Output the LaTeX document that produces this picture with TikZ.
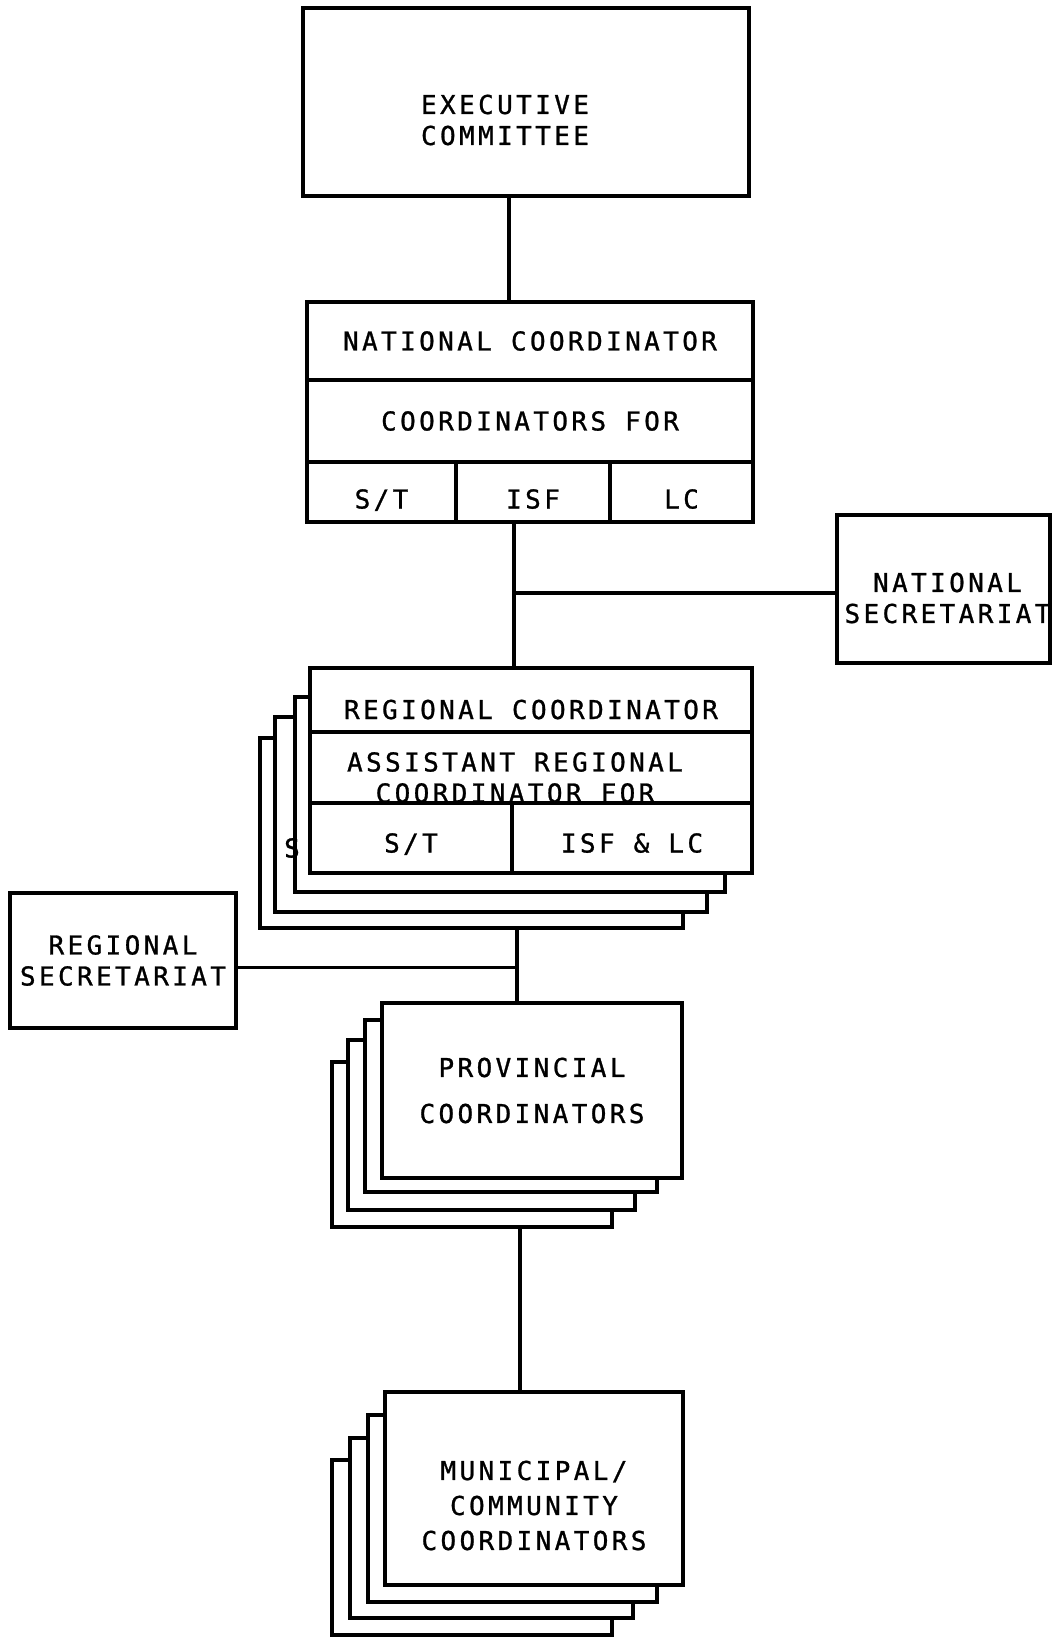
\documentclass[tikz,border=0pt]{standalone}
\usepackage{fontspec}
\usetikzlibrary{positioning}
\newfontfamily\orgfont[LetterSpace=13, FakeBold=1]{DejaVu Sans Mono}

\begin{document}
\begin{tikzpicture}[
  x=1pt, y=-1pt,
  box/.style={rectangle, draw, line width=3.3pt, fill=white, inner sep=0pt, outer sep=0pt,
              align=center, font=\orgfont\fontsize{26}{31}\selectfont},
  sheet/.style={rectangle, draw, line width=3.3pt, fill=white, inner sep=0pt, outer sep=0pt},
  txt/.style={inner sep=0pt, align=center, font=\orgfont\fontsize{26}{31}\selectfont},
  low/.style={text height=#1, text depth=0pt},
  link/.style={line width=3.3pt},
]
\useasboundingbox (0,0) rectangle (1052,1637);

% Executive committee
\node[sheet, minimum width=446, minimum height=188] (exec) at (526,102) {};
\node[txt] (exectext) at ([xshift=-21pt, yshift=-18pt]exec.center) {EXECUTIVE\\COMMITTEE};

% National coordinator block
\node[box, minimum width=446, minimum height=78] (natname) at (530,341) {NATIONAL COORDINATOR};
\node[box, minimum width=446, minimum height=82, below=0pt of natname] (natfor) {COORDINATORS FOR};
\node[box, low=33pt, minimum width=149, minimum height=60, below=0pt of natfor.south west, anchor=north west] (natst) {S/T};
\node[box, low=33pt, minimum width=154, minimum height=60, right=0pt of natst] (natisf) {ISF};
\node[box, low=33pt, minimum width=143, minimum height=60, right=0pt of natisf] (natlc) {LC};

% National secretariat
\node[sheet, minimum width=213, minimum height=148] (natsec) at (943.5,589) {};
\node[txt] (natsectext) at ([xshift=4pt, yshift=-9pt]natsec.center) {NATIONAL\\SECRETARIAT};

% Regional coordinators (stacked)
\node[sheet, minimum width=423, minimum height=190] (reg4) at (471.5,833) {};
\node[sheet, minimum width=432, minimum height=195] (reg3) at (491,814.5) {};
\node[sheet, minimum width=430, minimum height=195] (reg2) at (510,794.5) {};
\node[txt] (regs) at (292,848) {S};
\node[box, low=38pt, minimum width=442, minimum height=64] (regname) at (531,700) {REGIONAL COORDINATOR};
\node[box, minimum width=442, minimum height=71, below=0pt of regname] (regasst) {};
\node[txt] (regassttext) at ([xshift=-16pt, yshift=-10pt]regasst.center) {ASSISTANT REGIONAL\\COORDINATOR FOR};
\node[box, low=29pt, minimum width=202, minimum height=70, below=0pt of regasst.south west, anchor=north west] (regst) {S/T};
\node[box, low=29pt, minimum width=240, minimum height=70, right=0pt of regst] (regisf) {ISF \& LC};

% Regional secretariat
\node[box, minimum width=226, minimum height=135] (regsec) at (123,960.5) {REGIONAL\\SECRETARIAT};

% Provincial coordinators (stacked)
\node[sheet, minimum width=280, minimum height=165] (prov4) at (472,1144.5) {};
\node[sheet, minimum width=287, minimum height=170] (prov3) at (491.5,1125) {};
\node[sheet, minimum width=292, minimum height=172] (prov2) at (511,1106) {};
\node[box, minimum width=300, minimum height=175] (prov) at (532,1090.5) {PROVINCIAL\\[15pt]COORDINATORS};

% Municipal / community coordinators (stacked)
\node[sheet, minimum width=280, minimum height=175] (mun4) at (472,1547.5) {};
\node[sheet, minimum width=283, minimum height=180] (mun3) at (491.5,1528) {};
\node[sheet, minimum width=289, minimum height=187] (mun2) at (512.5,1508.5) {};
\node[sheet, minimum width=298, minimum height=193] (mun) at (534,1488.5) {};
\node[txt] (muntext) at ([yshift=-17pt]mun.center) {MUNICIPAL/\\[4pt]COMMUNITY\\[4pt]COORDINATORS};

% Lines
\draw[link] ([xshift=-17pt]exec.south) -- ([xshift=-17pt]exec.south |- natname.north);
\draw[link] ([xshift=-19pt]natisf.south) -- ([xshift=-19pt]natisf.south |- regname.north);
\draw[link] ([yshift=-4pt]natsec.west) -- ([xshift=-19pt, yshift=-4pt]natisf.south |- natsec.west);
\draw[link] ([xshift=-15pt]prov.north) -- ([xshift=-15pt]prov.north |- reg4.south);
\draw[link] ([yshift=-7pt]regsec.east) -- ([xshift=-15pt, yshift=-7pt]prov.north |- regsec.east);
\draw[link] ([xshift=-14pt]mun.north) -- ([xshift=-14pt]mun.north |- prov4.south);

\end{tikzpicture}
\end{document}
